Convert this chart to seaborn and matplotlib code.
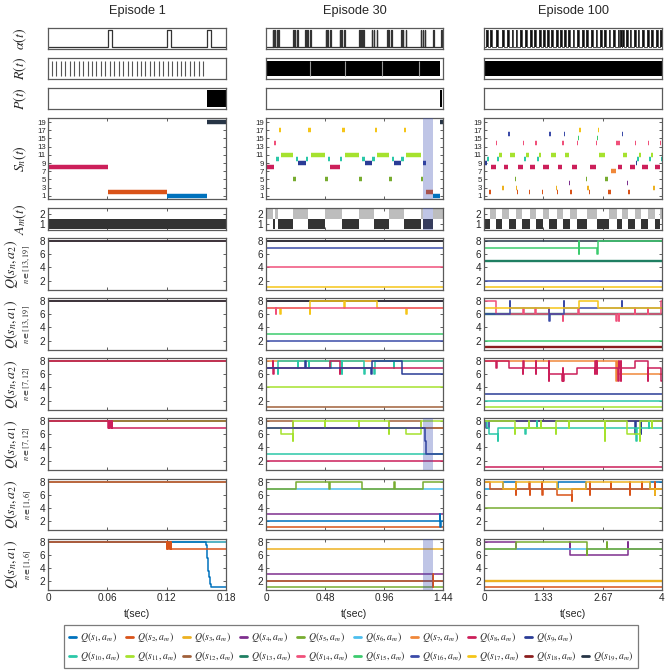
import matplotlib
matplotlib.use("Agg")
import matplotlib.pyplot as plt
import pandas as pd
import seaborn as sns
from matplotlib.lines import Line2D

sns.set_theme(style="white")
plt.rcParams["font.family"] = ["Liberation Sans", "DejaVu Sans"]
plt.rcParams["mathtext.fontset"] = "stix"
plt.rcParams["axes.edgecolor"] = "#5a5a5a"
plt.rcParams["axes.linewidth"] = 0.9

# ------------------------------------------------------------------ data
episodes = ["Episode 1", "Episode 30", "Episode 100"]
t_end = [0.18, 1.44, 4.0]
x_ticks = [[0, 0.06, 0.12, 0.18], [0, 0.48, 0.96, 1.44], [0, 1.33, 2.67, 4.0]]
x_tick_labels = [["0", "0.06", "0.12", "0.18"], ["0", "0.48", "0.96", "1.44"], ["0", "1.33", "2.67", "4"]]

state_colors = {1: "#0072BD", 2: "#D95319", 3: "#EDB120", 4: "#7E2F8E", 5: "#77AC30",
                6: "#4DBEEE", 7: "#F0883A", 8: "#CC1F5A", 9: "#2A3C96", 10: "#2BC8A8",
                11: "#A6E22E", 12: "#A0603A", 13: "#1F7F62", 14: "#F0507A", 15: "#3CCB6E",
                16: "#3B4BA8", 17: "#F5C518", 18: "#8B1E1E", 19: "#263445"}

# alpha(t): pulse start times and pulse widths
alpha_pulses_e1 = [0.0604, 0.1200, 0.1605]
alpha_pulses_e30 = [0.054, 0.067, 0.086, 0.100, 0.220, 0.234, 0.253, 0.318, 0.336, 0.358,
                    0.485, 0.500, 0.522, 0.598, 0.614, 0.635, 0.760, 0.775, 0.790, 0.861,
                    0.878, 0.902, 0.985, 0.996, 1.018, 1.098, 1.114, 1.136, 1.260, 1.276,
                    1.292, 1.360, 1.427]
alpha_pulses_e100 = [0.04, 0.13, 0.28, 0.41, 0.52, 0.62, 0.71, 0.82, 0.93, 1.03, 1.13, 1.23,
                     1.32, 1.41, 1.51, 1.62, 1.71, 1.80, 1.89, 1.99, 2.10, 2.20, 2.29, 2.41,
                     2.51, 2.61, 2.70, 2.80, 2.90, 3.00, 3.05, 3.10, 3.20, 3.27, 3.38, 3.45,
                     3.55, 3.66, 3.75, 3.87, 3.96]
alpha_width = [0.0045, 0.0045, 0.040]

# R(t): reward spikes (episode 1) and dense reward blocks (episodes 30, 100)
R_spikes_e1 = [0.0040, 0.0085, 0.0130, 0.0175, 0.0220, 0.0265, 0.0310, 0.0355, 0.0400,
               0.0445, 0.0490, 0.0535, 0.0580, 0.0625, 0.0670, 0.0715, 0.0760, 0.0805,
               0.0850, 0.0895, 0.0940, 0.0985, 0.1030, 0.1075, 0.1120, 0.1165, 0.1210,
               0.1255, 0.1300, 0.1345, 0.1390, 0.1435, 0.1480, 0.1525, 0.1570]
R_blocks_e30 = [(0.004, 1.418)]
R_gaps_e30 = [0.358, 0.646, 0.947, 1.244]
R_blocks_e100 = [(0.0, 4.0)]
R_gaps_e100 = []

# P(t): punishment intervals
P_blocks_e1 = [(0.1605, 0.18)]
P_blocks_e30 = [(1.418, 1.432)]
P_blocks_e100 = []

# S_n(t): visited states
S_states_e1 = [8, 2, 1, 19]
S_start_e1 = [0, 0.0605, 0.1200, 0.1605]
S_states_e30 = [8, 14, 10, 17, 11, 5, 10, 9, 10, 17, 11, 5, 10, 8, 10, 17, 11, 5, 10, 9, 10, 17,
                11, 5, 10, 9, 10, 17, 11, 5, 9, 2, 1, 19]
S_start_e30 = [0, 0.062, 0.081, 0.102, 0.121, 0.221, 0.242, 0.264, 0.323, 0.345, 0.366, 0.479,
               0.501, 0.522, 0.600, 0.622, 0.643, 0.759, 0.781, 0.802, 0.861, 0.883, 0.905,
               1.001, 1.023, 1.045, 1.098, 1.120, 1.141, 1.260, 1.281, 1.298, 1.360, 1.419]
S_states_e100 = [8, 9, 10, 2, 8, 14, 10, 11, 3, 8, 16, 11, 5, 3, 2, 8, 14, 10, 11, 2, 8, 14, 10,
                 11, 2, 8, 14, 16, 11, 3, 2, 8, 14, 16, 11, 4, 2, 8, 14, 15, 17, 5, 3, 2, 8, 14,
                 15, 17, 11, 5, 2, 7, 14, 8, 16, 11, 4, 2, 8, 14, 9, 10, 11, 2, 8, 14, 10, 11, 3,
                 8, 14, 10]
S_start_e100 = [0, 0.03, 0.06, 0.12, 0.16, 0.26, 0.30, 0.33, 0.41, 0.44, 0.55, 0.59, 0.70, 0.72,
                0.74, 0.77, 0.88, 0.90, 0.95, 1.01, 1.04, 1.15, 1.18, 1.24, 1.31, 1.33, 1.45,
                1.47, 1.50, 1.61, 1.64, 1.67, 1.76, 1.79, 1.82, 1.91, 1.94, 1.97, 2.09, 2.12,
                2.14, 2.29, 2.32, 2.35, 2.38, 2.51, 2.53, 2.56, 2.59, 2.72, 2.78, 2.86, 2.97,
                3.00, 3.10, 3.13, 3.22, 3.24, 3.28, 3.39, 3.41, 3.44, 3.49, 3.54, 3.56, 3.68,
                3.71, 3.76, 3.80, 3.84, 3.95, 3.98]
S_end_e100 = [0.03, 0.06, 0.12, 0.16, 0.26, 0.30, 0.33, 0.41, 0.44, 0.55, 0.59, 0.70, 0.72, 0.74,
              0.77, 0.88, 0.90, 0.95, 1.01, 1.04, 1.15, 1.18, 1.24, 1.28, 1.33, 1.45, 1.47,
              1.50, 1.61, 1.64, 1.67, 1.76, 1.79, 1.82, 1.91, 1.94, 1.97, 2.09, 2.12, 2.14,
              2.17, 2.32, 2.35, 2.38, 2.51, 2.53, 2.56, 2.59, 2.72, 2.78, 2.86, 2.97, 3.06,
              3.10, 3.13, 3.22, 3.24, 3.28, 3.39, 3.41, 3.44, 3.49, 3.52, 3.56, 3.68, 3.71,
              3.76, 3.80, 3.84, 3.95, 3.98, 4.00]

# A_m(t): chosen action with switching times
A_actions_e1 = [1]
A_start_e1 = [0]
A_actions_e30 = [2, 1, 2, 1, 2, 1, 2, 1, 2, 1, 2, 1, 2, 1, 2]
A_start_e30 = [0, 0.054, 0.0757, 0.0973, 0.219, 0.340, 0.481, 0.616, 0.756, 0.878, 1.0, 1.124,
               1.259, 1.278, 1.359]
A_actions_e100 = [1, 2] * 13
A_start_e100 = [0, 0.14, 0.26, 0.41, 0.56, 0.73, 0.86, 1.03, 1.16, 1.33, 1.46, 1.63, 1.78, 1.94,
                2.08, 2.32, 2.55, 2.80, 2.98, 3.09, 3.24, 3.39, 3.53, 3.69, 3.84, 3.96]

shade_e30 = (1.278, 1.359)

# Q-values: (state, change times, values), in drawing order
# Episode 1
Q_e1_a2_hi = [(s, [0], [8]) for s in [13, 14, 15, 16, 17, 18, 19]]
Q_e1_a1_hi = [(s, [0], [8]) for s in [13, 14, 15, 16, 17, 18, 19]]
Q_e1_a2_mid = [(s, [0], [8]) for s in [7, 9, 10, 11, 12, 8]]
Q_e1_a1_mid = [(7, [0], [8]), (9, [0], [8]), (10, [0], [8]), (11, [0], [8]), (12, [0], [8]),
               (8, [0, 0.0604, 0.0612, 0.0620, 0.0628, 0.0636, 0.0644, 0.0652],
                [8, 7, 8, 7, 8, 7, 8, 7])]
Q_e1_a2_lo = [(s, [0], [8]) for s in [1, 3, 4, 5, 6, 2]]
Q_e1_a1_lo = [(3, [0], [8]), (4, [0], [8]), (5, [0], [8]), (6, [0], [8]),
              (1, [0, 0.1598, 0.1604, 0.1610, 0.1616, 0.1622, 0.1630, 0.1638, 0.1645],
               [8, 7.5, 6.5, 5.5, 4.5, 3.5, 2.5, 1.5, 1]),
              (2, [0, 0.1200, 0.1208, 0.1216, 0.1224, 0.1232, 0.1240, 0.1248],
               [8, 7, 8, 7, 8, 7, 8, 7])]
# Episode 30
Q_e30_a2_hi = [(13, [0], [8]), (15, [0], [8]), (18, [0], [8]), (19, [0], [8]),
               (16, [0], [7]), (14, [0], [4]), (17, [0], [1])]
Q_e30_a1_hi = [(13, [0], [8]), (18, [0], [8]), (19, [0], [8]),
               (17, [0, 0.114, 0.118, 0.357, 0.361, 0.636, 0.640, 0.900, 1.141, 1.145],
                [7, 6, 7, 6, 8, 7, 8, 7, 6, 7]),
               (14, [0, 0.079, 0.083], [7, 6, 7]),
               (15, [0], [3]), (16, [0], [2])]
Q_e30_a2_mid = [(7, [0], [8]),
                (10, [0, 0.097, 0.101, 0.257, 0.261, 0.346, 0.350, 0.524, 0.528, 0.616, 0.620,
                      0.800, 0.804, 0.881, 0.885, 1.040, 1.044],
                 [7, 6, 8, 7, 8, 7, 8, 7, 8, 6, 8, 6, 7, 6, 8, 7, 8]),
                (8, [0, 0.054, 0.059, 0.063, 0.520, 0.600, 0.604], [7, 8, 6, 7, 8, 6, 7]),
                (9, [0, 0.317, 0.322, 0.858, 0.864, 1.108], [7, 8, 7, 6, 8, 6]),
                (11, [0], [4]), (12, [0], [1])]
Q_e30_a1_mid = [(7, [0], [7]),
                (12, [0, 0.219, 0.999, 1.262], [8, 7, 8, 7]),
                (11, [0, 0.119, 0.216, 0.219, 0.478, 0.481, 0.757, 0.760, 0.999, 1.003, 1.141, 1.262],
                 [7, 6, 5, 8, 7, 8, 7, 8, 6, 7, 6, 8]),
                (10, [0], [3]), (8, [0], [2]),
                (9, [0, 1.297, 1.300, 1.303], [7, 5, 4, 3])]
Q_e30_a2_lo = [(2, [0], [1]), (6, [0], [7]),
               (5, [0, 0.248, 0.515, 0.519, 0.778, 1.043, 1.047, 1.280], [7, 8, 7, 8, 7, 8, 7, 8]),
               (4, [0], [3]),
               (1, [0, 1.415, 1.419, 1.423], [2, 3, 1, 2])]
Q_e30_a1_lo = [(1, [0], [2]), (3, [0], [7]), (4, [0], [3]), (5, [0], [1]),
               (2, [0, 1.355, 1.358, 1.361], [2, 3, 1, 2])]
# Episode 100
Q_e100_a2_hi = [(19, [0], [8]),
                (15, [0, 2.135, 2.140, 2.145, 2.550, 2.555], [7, 8, 6, 7, 6, 8]),
                (13, [0], [5]), (16, [0], [2]), (17, [0], [1])]
Q_e100_a1_hi = [(13, [0], [6]), (18, [0], [1]), (15, [0], [2]),
                (14, [0, 0.28, 0.885, 0.89, 1.155, 1.16, 1.46, 1.465, 1.78, 1.785, 2.12, 2.125,
                      2.975, 2.98, 3.03, 3.035, 3.39, 3.395, 3.69, 3.695, 3.97],
                 [8, 6, 7, 6, 7, 6, 7, 6, 5, 6, 7, 6, 5, 6, 5, 6, 7, 6, 7, 6, 8]),
                (16, [0, 0.575, 0.58, 1.47, 1.48, 1.79, 1.80, 3.10, 3.105],
                 [6, 8, 7, 5, 6, 8, 7, 8, 7]),
                (17, [0, 2.14, 2.56], [7, 8, 7])]
Q_e100_a2_mid = [(9, [0], [3]), (10, [0], [2]), (11, [0], [1]),
                 (7, [0, 2.975, 2.98, 3.00], [8, 5, 8, 6]),
                 (8, [0, 0.28, 0.285, 0.56, 0.88, 0.885, 0.89, 1.16, 1.165, 1.17, 1.46, 1.465,
                      1.47, 1.76, 1.77, 1.78, 1.79, 2.08, 2.50, 2.505, 2.51, 2.53, 2.535, 2.54,
                      3.02, 3.025, 3.03, 3.07, 3.075, 3.08, 3.40, 3.69, 3.695, 3.97],
                  [8, 7, 8, 7, 6, 8, 7, 6, 8, 7, 5, 8, 6, 5, 7, 5, 6, 7, 6, 8, 7, 6, 8, 7,
                   5, 8, 7, 5, 8, 7, 8, 5, 7, 5])]
Q_e100_a1_mid = [(12, [0], [8]), (7, [0], [8]),
                 (9, [0, 0.05, 0.11, 3.40, 3.41, 3.52, 3.53], [8, 7, 8, 6, 8, 6, 8]),
                 (10, [0, 0.06, 0.11, 0.31, 0.315, 0.93, 0.935, 1.19, 1.195, 3.42, 3.43, 3.70, 3.705],
                  [8, 7, 6, 5, 7, 6, 7, 8, 7, 5, 7, 8, 7]),
                 (11, [0, 0.695, 0.70, 1.01, 1.015, 1.27, 1.275, 1.61, 1.615, 1.91, 1.915, 2.72,
                       2.725, 3.22, 3.50, 3.505, 3.78, 3.785],
                  [8, 6, 7, 8, 7, 8, 7, 6, 8, 7, 8, 5, 8, 6, 5, 8, 7, 8]),
                 (8, [0], [1])]
Q_e100_a2_lo = [(5, [0], [4]),
                (1, [0, 0.43, 0.73, 1.67, 2.30, 3.73], [7, 8, 7, 8, 7, 8]),
                (6, [0], [7]),
                (2, [0, 0.14, 0.72, 0.723, 0.726, 1.02, 1.023, 1.026, 1.31, 1.313, 1.316, 1.64,
                     1.98, 1.983, 2.38, 2.383, 2.386, 2.86, 2.863, 3.28, 3.283, 3.286, 3.54,
                     3.543, 3.84, 3.843, 3.846],
                 [8, 7, 8, 6, 7, 8, 6, 7, 8, 6, 7, 6, 5, 7, 8, 6, 7, 8, 7, 8, 6, 7, 8, 7, 8, 6, 7]),
                (3, [0, 0.43, 0.73, 1.64, 2.30, 3.73, 3.84, 3.845], [8, 7, 8, 7, 8, 7, 6, 7])]
Q_e100_a1_lo = [(4, [0, 0.73, 1.93, 1.935, 3.24, 3.245], [8, 7, 8, 6, 8, 7]),
                (6, [0], [7]),
                (5, [0, 0.73, 2.32, 2.325, 2.77, 2.775], [7, 8, 6, 7, 8, 7]),
                (3, [0], [2]), (2, [0], [1])]

Q_row_labels = [("a_2", "[13,19]"), ("a_1", "[13,19]"), ("a_2", "[7,12]"),
                ("a_1", "[7,12]"), ("a_2", "[1,6]"), ("a_1", "[1,6]")]

# ------------------------------------------------------------------ layout
W, H = 669, 671
fig = plt.figure(figsize=(W / 100, H / 100), dpi=100)
fig.patch.set_facecolor("white")

col_px = [(48, 226), (266, 443), (484, 662)]
row_px = [(28, 49), (58, 79), (88, 109), (118, 199), (208, 230), (238, 290),
          (298, 350), (358, 410), (418, 470), (479, 530), (539, 590)]


def add_ax(c, r):
    x0, x1 = col_px[c]
    y0, y1 = row_px[r]
    return fig.add_axes([x0 / W, 1 - y1 / H, (x1 - x0) / W, (y1 - y0) / H])


def style_ticks(ax, ticks_on=True):
    ax.tick_params(direction="in", length=2.5, width=0.6, color="#444444",
                   labelsize=7.2, pad=2, left=ticks_on, right=ticks_on,
                   top=ticks_on, bottom=ticks_on, labelcolor="#262626")


def step_line(ax, t, v, T, color, lw=1.1):
    df = pd.DataFrame({"t": list(t) + [T], "q": list(v) + [v[-1]]})
    sns.lineplot(data=df, x="t", y="q", ax=ax, color=color, lw=lw,
                 drawstyle="steps-post", estimator=None, sort=False, legend=False)
    ax.set_xlabel("")
    ax.set_ylabel("")
    return df


alpha_all = [alpha_pulses_e1, alpha_pulses_e30, alpha_pulses_e100]
R_all = [None, (R_blocks_e30, R_gaps_e30), (R_blocks_e100, R_gaps_e100)]
P_all = [P_blocks_e1, P_blocks_e30, P_blocks_e100]
S_all = [(S_states_e1, S_start_e1, S_start_e1[1:] + [t_end[0]]),
         (S_states_e30, S_start_e30, S_start_e30[1:] + [t_end[1]]),
         (S_states_e100, S_start_e100, S_end_e100)]
A_all = [(A_actions_e1, A_start_e1), (A_actions_e30, A_start_e30), (A_actions_e100, A_start_e100)]
Q_all = [[Q_e1_a2_hi, Q_e1_a1_hi, Q_e1_a2_mid, Q_e1_a1_mid, Q_e1_a2_lo, Q_e1_a1_lo],
         [Q_e30_a2_hi, Q_e30_a1_hi, Q_e30_a2_mid, Q_e30_a1_mid, Q_e30_a2_lo, Q_e30_a1_lo],
         [Q_e100_a2_hi, Q_e100_a1_hi, Q_e100_a2_mid, Q_e100_a1_mid, Q_e100_a2_lo, Q_e100_a1_lo]]
shade_rows = {3, 4, 8, 10}

for c in range(3):
    T = t_end[c]
    axes = [add_ax(c, r) for r in range(11)]
    for ax in axes:
        ax.set_xlim(0, T)
        ax.set_facecolor("white")
        for sp in ax.spines.values():
            sp.set_color("#5a5a5a")
            sp.set_linewidth(0.9)

    # alpha(t)
    ax = axes[0]
    ts, vs = [0], [0]
    for p in alpha_all[c]:
        ts += [p, p + alpha_width[c]]
        vs += [1, 0]
    df = step_line(ax, ts, vs, T, "#333333", lw=0.9 if c < 2 else 0.6)
    if c == 2:
        ax.fill_between(df["t"], 0, df["q"], step="post", color="#111111", lw=0)
    ax.set_ylim(-0.09, 1.09)
    ax.set_xticks([]); ax.set_yticks([])

    # R(t)
    ax = axes[1]
    if c == 0:
        ax.vlines(R_spikes_e1, 0.12, 0.88, color="#555555", lw=0.8)
    else:
        blocks, gaps = R_all[c]
        for a, b in blocks:
            ax.fill_between([a, b], 0.12, 0.88, color="black", lw=0)
        if gaps:
            ax.vlines(gaps, 0.12, 0.88, color="#9a9a9a", lw=0.8)
    ax.set_ylim(0, 1)
    ax.set_xticks([]); ax.set_yticks([])

    # P(t)
    ax = axes[2]
    for a, b in P_all[c]:
        ax.fill_between([a, b], 0.08, 0.92, color="black", lw=0)
    ax.set_ylim(0, 1)
    ax.set_xticks([]); ax.set_yticks([])

    # S_n(t)
    ax = axes[3]
    st, s0, s1 = S_all[c]
    for s, a, b in zip(st, s0, s1):
        ax.hlines(s, a, b, color=state_colors[s], lw=3.2)
    ax.set_ylim(0.2, 20)
    ax.set_yticks(list(range(1, 20, 2)))
    ax.set_yticklabels([str(v) for v in range(1, 20, 2)])

    # A_m(t)
    ax = axes[4]
    acts, a0 = A_all[c]
    a1 = a0[1:] + [T]
    for act, a, b in zip(acts, a0, a1):
        ax.barh(act if act == 1 else 1.98, b - a, left=a, height=0.95,
                color="#333333" if act == 1 else "#BDBDBD", lw=0)
    ax.set_ylim(0.43, 2.55)
    ax.set_yticks([1, 2])

    # Q panels
    for r in range(6):
        ax = axes[5 + r]
        for s, tt, vv in Q_all[c][r]:
            thick = 1.7 if (c == 2 and s in (13, 18, 3) and len(tt) == 1) else 1.1
            step_line(ax, tt, vv, T, state_colors[s], lw=thick)
        ax.set_ylim(0.55, 8.5)
        ax.set_yticks([2, 4, 6, 8])

    for r in range(3, 11):
        ax = axes[r]
        ax.set_xticks(x_ticks[c])
        style_ticks(ax)
        if r == 3:
            ax.tick_params(axis="y", labelsize=5.6, pad=1.5)
        if r < 10:
            ax.set_xticklabels([])
        else:
            ax.set_xticklabels(x_tick_labels[c])
        ax.set_xlim(0, T)
        if c == 1 and r in shade_rows:
            ax.axvspan(shade_e30[0], shade_e30[1], color="#3F51B5", alpha=0.33, lw=0, zorder=5)

    fig.text((col_px[c][0] + col_px[c][1]) / 2 / W, 1 - 11 / H, episodes[c],
             ha="center", va="center", fontsize=9.2)
    fig.text((col_px[c][0] + col_px[c][1]) / 2 / W, 1 - 614 / H, "t(sec)",
             ha="center", va="center", fontsize=7.6)

# y labels (left column)
top_labels = [r"$\alpha(t)$", r"$R(t)$", r"$P(t)$", r"$S_n(t)$", r"$A_m(t)$"]
for r, lab in enumerate(top_labels):
    yc = (row_px[r][0] + row_px[r][1]) / 2
    fig.text(20 / W, 1 - yc / H, lab, rotation=90, ha="center", va="center", fontsize=10)
for r, (act, rng) in enumerate(Q_row_labels):
    yc = (row_px[5 + r][0] + row_px[5 + r][1]) / 2
    fig.text(11 / W, 1 - yc / H, r"$Q(s_n,%s)$" % act, rotation=90, ha="center", va="center",
             fontsize=10)
    fig.text(27 / W, 1 - yc / H, r"$n\in%s$" % rng, rotation=90, ha="center", va="center",
             fontsize=6)

# legend: row 1 -> states 1..9, row 2 -> states 10..19
order = []
for k in range(9):
    order += [k + 1, k + 10]
order += [None, 19]
handles, labels = [], []
for s in order:
    if s is None:
        handles.append(Line2D([], [], color="none"))
        labels.append(r"$Q(s_{19},a_{m})$")
    else:
        handles.append(Line2D([], [], color=state_colors[s], lw=2))
        labels.append(r"$Q(s_{%d},a_{m})$" % s)
leg = fig.legend(handles, labels, ncol=10, loc="lower left",
                 bbox_to_anchor=(64 / W, 1 - 668 / H, (638 - 64) / W, (668 - 626) / H),
                 mode="expand", borderaxespad=0, fontsize=7, handlelength=0.7,
                 handletextpad=0.4, columnspacing=0.3, frameon=True, fancybox=False,
                 edgecolor="#5a5a5a", labelspacing=0.5, borderpad=0.5)
leg.get_frame().set_linewidth(0.9)
leg.get_texts()[order.index(None)].set_alpha(0)

fig.savefig("out.png", dpi=100, facecolor="white")
